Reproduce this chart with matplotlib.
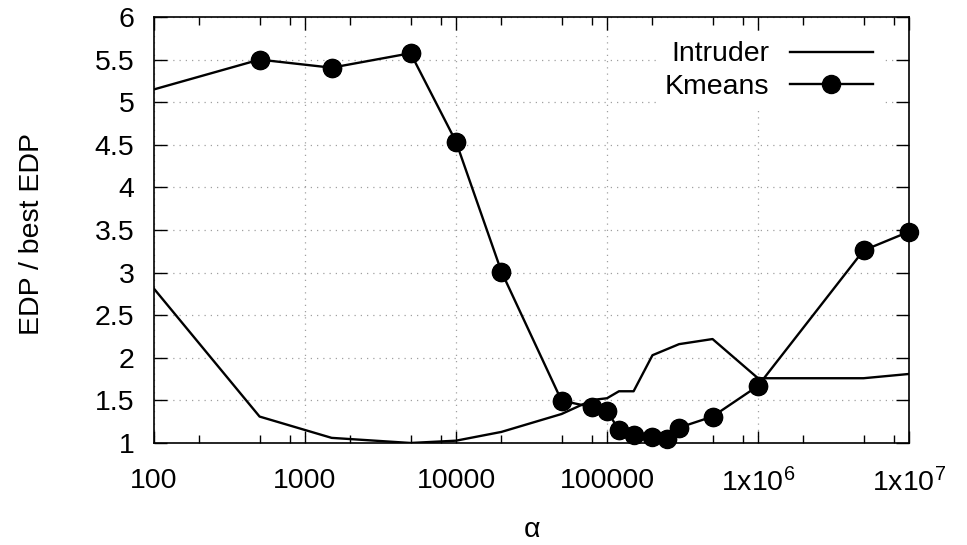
import matplotlib
matplotlib.use("Agg")
import matplotlib.pyplot as plt
from matplotlib.ticker import FixedLocator, FixedFormatter, NullFormatter, LogLocator

plt.rcParams['font.family'] = ['Liberation Sans', 'DejaVu Sans']
plt.rcParams['mathtext.fontset'] = 'custom'
plt.rcParams['mathtext.rm'] = 'Liberation Sans'
plt.rcParams['mathtext.it'] = 'Liberation Sans'

# Intruder (line only)
intruder_alpha = [100, 500, 1500, 5000, 10000, 20000, 50000, 80000, 100000, 120000,
                  150000, 200000, 300000, 500000, 1e6, 5e6, 1e7]
intruder_edp = [2.81, 1.31, 1.06, 1.0, 1.027, 1.13, 1.34, 1.505, 1.525, 1.607,
                1.607, 2.03, 2.16, 2.22, 1.76, 1.76, 1.81]

# Kmeans (line + points); first point lies left of the plotted range
kmeans_alpha = [50, 500, 1500, 5000, 10000, 20000, 50000, 80000, 100000, 120000,
                150000, 200000, 250000, 300000, 500000, 1e6, 5e6, 1e7]
kmeans_edp = [5.0, 5.5, 5.405, 5.575, 4.536, 3.01, 1.497, 1.42, 1.376, 1.153,
              1.094, 1.067, 1.047, 1.18, 1.31, 1.67, 3.26, 3.48]

xticks = [100, 1000, 10000, 100000, 1e6, 1e7]
xtick_labels = ['100', '1000', '10000', '100000', r'1x10$^{6}$', r'1x10$^{7}$']
yticks = [1, 1.5, 2, 2.5, 3, 3.5, 4, 4.5, 5, 5.5, 6]
ytick_labels = ['1', '1.5', '2', '2.5', '3', '3.5', '4', '4.5', '5', '5.5', '6']

FS = 20.5

fig = plt.figure(figsize=(9.67, 5.45), dpi=100)
ax = fig.add_axes([0.1593, 0.1872, 0.9400 - 0.1593, 0.9688 - 0.1872])

ax.plot(intruder_alpha, intruder_edp, color='black', lw=1.7, label='Intruder')
ax.plot(kmeans_alpha, kmeans_edp, color='black', lw=1.7, marker='o', ms=13,
        markevery=list(range(1, len(kmeans_alpha))), label='Kmeans')
# markers on the border are drawn whole, like gnuplot does
ax.plot(kmeans_alpha[1:], kmeans_edp[1:], 'o', color='black', ms=13, clip_on=False, zorder=3)

ax.set_xscale('log')
ax.set_xlim(100, 1e7)
ax.set_ylim(1, 6)

ax.xaxis.set_major_locator(FixedLocator(xticks))
ax.xaxis.set_major_formatter(FixedFormatter(xtick_labels))
ax.xaxis.set_minor_locator(LogLocator(base=10, subs=(2, 5, 8)))
ax.xaxis.set_minor_formatter(NullFormatter())
ax.yaxis.set_major_locator(FixedLocator(yticks))
ax.yaxis.set_major_formatter(FixedFormatter(ytick_labels))

ax.tick_params(which='both', direction='in', top=True, right=True, width=1, labelsize=FS)
ax.tick_params(axis='x', which='major', length=9, pad=18)
ax.tick_params(axis='x', which='minor', length=5.5)
ax.tick_params(axis='y', which='major', length=9.5, pad=14)
for s in ax.spines.values():
    s.set_linewidth(1.2)

ax.grid(True, which='major', color='#a0a0a0', linestyle=(0, (1, 4)), lw=0.9)
ax.set_axisbelow(True)

ax.set_xlabel('α', fontsize=FS, va='center')
ax.xaxis.set_label_coords(0.5, -0.205)
ax.set_ylabel('EDP / best EDP', fontsize=FS, va='center')
ax.yaxis.set_label_coords(-0.161, 0.49)

leg = ax.legend(loc='upper right', bbox_to_anchor=(0.982, 0.996), markerfirst=False,
                fontsize=FS, handlelength=2.9, labelspacing=0.22, frameon=True,
                fancybox=False, borderpad=0.3, handletextpad=0.74)
leg.get_frame().set_facecolor('white')
leg.get_frame().set_edgecolor('none')
leg.get_frame().set_alpha(1)

fig.savefig('out.png', dpi=100)
